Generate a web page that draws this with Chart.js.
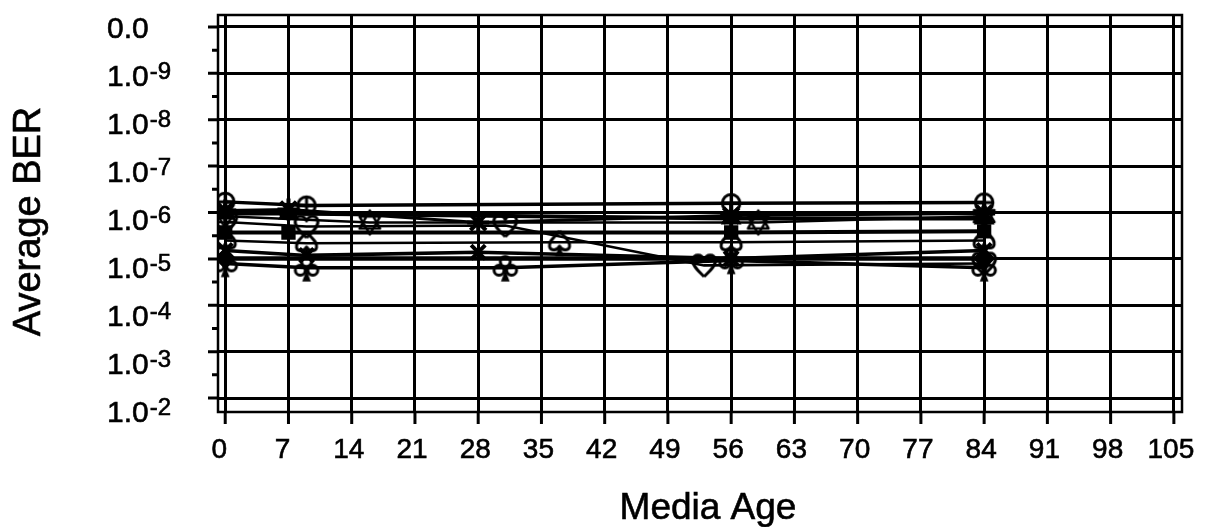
<!DOCTYPE html>
<html>
<head>
<meta charset="utf-8">
<script src="https://cdn.jsdelivr.net/npm/chart.js@4.4.1/dist/chart.umd.min.js"></script>
<style>
  html, body { margin: 0; padding: 0; background: #fff; }
  canvas { display: block; }
</style>
</head>
<body>
<canvas id="ber" width="1206" height="527"></canvas>
<script>
// Axis ticks
const ageTicks = [0, 7, 14, 21, 28, 35, 42, 49, 56, 63, 70, 77, 84, 91, 98, 105];
const berTicks = [1e-10, 1e-9, 1e-8, 1e-7, 1e-6, 1e-5, 1e-4, 1e-3, 1e-2];
const berTickBase = ['0.0', '1.0', '1.0', '1.0', '1.0', '1.0', '1.0', '1.0', '1.0'];
const berTickExp = ['', '-9', '-8', '-7', '-6', '-5', '-4', '-3', '-2'];

// Series: media age (days) and average bit error rate
const circleAge = [0, 9, 56, 84];
const circleBer = [5.9e-7, 7.1e-7, 6.3e-7, 6.1e-7];
const starAge = [0, 7, 28, 56, 84];
const starBer = [9.1e-7, 8.6e-7, 1.64e-6, 1.16e-6, 1.05e-6];
const hexAge = [0, 16, 59, 84];
const hexBer = [1.2e-6, 1.64e-6, 1.64e-6, 1.2e-6];
const triAge = [0, 7, 56, 84];
const triBer = [1.05e-6, 1.05e-6, 1.35e-6, 1.35e-6];
const heartAge = [0, 9, 31, 53, 84];
const heartBer = [1.6e-6, 2.0e-6, 1.9e-6, 1.38e-5, 1.25e-5];
const squareAge = [0, 7, 56, 84];
const squareBer = [2.7e-6, 2.7e-6, 2.7e-6, 2.55e-6];
const spadeAge = [0, 9, 37, 56, 84];
const spadeBer = [4.0e-6, 4.6e-6, 4.4e-6, 4.4e-6, 4.0e-6];
const crossAge = [0, 9, 28, 56, 84];
const crossBer = [6.6e-6, 8.4e-6, 7.2e-6, 9.8e-6, 6.6e-6];
const diamondAge = [0, 84];
const diamondBer = [9.8e-6, 9.8e-6];
const clubAge = [0, 9, 31, 56, 84];
const clubBer = [1.25e-5, 1.55e-5, 1.55e-5, 1.08e-5, 1.55e-5];

const FONT = '"Liberation Sans", Arial, Helvetica, sans-serif';

// Outline symbols drawn onto small canvases and used as point styles
function marker(size, draw) {
  const c = document.createElement('canvas');
  c.width = c.height = size;
  const g = c.getContext('2d');
  g.translate(size / 2, size / 2);
  g.scale(1.25, 1.25);
  g.strokeStyle = '#000';
  g.fillStyle = '#000';
  g.lineWidth = 2.4;
  g.lineJoin = 'round';
  draw(g);
  return c;
}
const circleMark = marker(28, g => {
  g.beginPath(); g.arc(0, 0, 7, 0, Math.PI * 2); g.stroke();
  g.beginPath(); g.moveTo(-7, 0); g.lineTo(7, 0); g.moveTo(0, -7); g.lineTo(0, 7); g.stroke();
});
const heartMark = marker(30, g => {
  g.beginPath();
  g.moveTo(0, 9);
  g.bezierCurveTo(-4, 5, -10, 0, -9, -4.5);
  g.bezierCurveTo(-8, -9.5, -2, -9.5, 0, -4.5);
  g.bezierCurveTo(2, -9.5, 8, -9.5, 9, -4.5);
  g.bezierCurveTo(10, 0, 4, 5, 0, 9);
  g.stroke();
});
const clubMark = marker(32, g => {
  [[0, -5], [-5, 2], [5, 2]].forEach(([cx, cy]) => {
    g.beginPath(); g.arc(cx, cy, 4, 0, Math.PI * 2); g.stroke();
  });
  g.beginPath(); g.moveTo(0, 2); g.lineTo(-3.5, 11); g.lineTo(3.5, 11); g.closePath(); g.fill();
});
const spadeMark = marker(32, g => {
  g.beginPath();
  g.moveTo(0, -9);
  g.bezierCurveTo(-4, -4, -9, -1, -8, 3.5);
  g.bezierCurveTo(-7, 7, -2, 7, 0, 3);
  g.bezierCurveTo(2, 7, 7, 7, 8, 3.5);
  g.bezierCurveTo(9, -1, 4, -4, 0, -9);
  g.stroke();
  g.beginPath(); g.moveTo(0, 3); g.lineTo(-3.5, 11); g.lineTo(3.5, 11); g.closePath(); g.fill();
});
const hexMark = marker(30, g => {
  g.lineWidth = 2;
  for (let k = 0; k < 2; k++) {
    g.beginPath();
    for (let j = 0; j < 3; j++) {
      const a = -Math.PI / 2 + k * Math.PI + j * 2 * Math.PI / 3;
      const px = 9.5 * Math.cos(a), py = 9.5 * Math.sin(a);
      if (j === 0) g.moveTo(px, py); else g.lineTo(px, py);
    }
    g.closePath();
    g.stroke();
  }
});

function series(ages, bers, style, extra) {
  return Object.assign({
    data: ages.map((a, i) => ({ x: a, y: bers[i] })),
    showLine: true,
    borderColor: '#000',
    backgroundColor: '#000',
    borderWidth: 3,
    pointStyle: style,
    pointRadius: 10,
    pointBorderColor: '#000',
    pointBackgroundColor: '#000',
    pointBorderWidth: 3
  }, extra || {});
}

const datasets = [
  series(circleAge, circleBer, circleMark, { borderWidth: 3.5 }),
  series(starAge, starBer, 'star', { pointRadius: 11, pointBorderWidth: 4 }),
  series(hexAge, hexBer, hexMark, { borderWidth: 2.5 }),
  series(triAge, triBer, 'triangle', { borderWidth: 4, pointRadius: 9 }),
  series(heartAge, heartBer, heartMark, { borderWidth: 2.5 }),
  series(squareAge, squareBer, 'rect', { borderWidth: 4, pointRadius: 8 }),
  series(spadeAge, spadeBer, spadeMark, { borderWidth: 2.5 }),
  series(crossAge, crossBer, 'crossRot', { borderWidth: 3.5, pointRadius: 10, pointBorderWidth: 4 }),
  series(diamondAge, diamondBer, 'rectRot', { borderWidth: 4.5, pointRadius: 9 }),
  series(clubAge, clubBer, clubMark, { borderWidth: 3.5 })
];

// Frame, tick marks, tick labels and axis titles
const axisDecor = {
  id: 'axisDecor',
  beforeDraw(chart) {
    const { ctx } = chart;
    ctx.save();
    ctx.fillStyle = '#fff';
    ctx.fillRect(0, 0, chart.width, chart.height);
    ctx.restore();
  },
  afterDraw(chart) {
    const { ctx, chartArea: a, scales: { x, y } } = chart;
    ctx.save();
    ctx.strokeStyle = '#000';
    ctx.lineWidth = 2.5;
    ctx.strokeRect(a.left, a.top, a.right - a.left, a.bottom - a.top);

    ctx.lineWidth = 3;
    ctx.beginPath();
    berTicks.forEach((v, i) => {
      const py = y.getPixelForValue(v);
      ctx.moveTo(a.left - 10, py); ctx.lineTo(a.left, py);
      if (i < berTicks.length - 1) {
        const pm = (py + y.getPixelForValue(berTicks[i + 1])) / 2;
        ctx.moveTo(a.left - 6, pm); ctx.lineTo(a.left, pm);
      }
    });
    ageTicks.forEach(v => {
      const px = x.getPixelForValue(v);
      ctx.moveTo(px, a.bottom); ctx.lineTo(px, a.bottom + 12);
    });
    ctx.stroke();

    ctx.fillStyle = '#000';
    ctx.lineWidth = 0.6;
    ctx.textBaseline = 'alphabetic';
    ctx.textAlign = 'left';
    const text = (s, tx, ty) => { ctx.fillText(s, tx, ty); ctx.strokeText(s, tx, ty); };
    berTicks.forEach((v, i) => {
      const base = y.getPixelForValue(v) + 1.7 * i + 10.7;
      ctx.font = '30px ' + FONT;
      text(berTickBase[i], 107, base);
      if (berTickExp[i]) {
        const w = ctx.measureText(berTickBase[i]).width;
        ctx.font = '24px ' + FONT;
        text(berTickExp[i], 107 + w + 1, base - 7);
      }
    });

    ctx.textAlign = 'center';
    ctx.font = '28px ' + FONT;
    ageTicks.forEach(v => {
      const label = String(v);
      const off = label.length === 1 ? -6 : -3;
      text(label, x.getPixelForValue(v) + off, 458);
    });

    ctx.font = '37px ' + FONT;
    text('Media Age', 708, 519);

    ctx.translate(40, 221.5);
    ctx.rotate(-Math.PI / 2);
    ctx.font = '38px ' + FONT;
    text('Average BER', 0, 0);
    ctx.restore();
  }
};

new Chart(document.getElementById('ber'), {
  type: 'scatter',
  data: { datasets },
  options: {
    responsive: false,
    animation: false,
    layout: { padding: { left: 218, right: 24, top: 14, bottom: 115 } },
    plugins: { legend: { display: false }, tooltip: { enabled: false } },
    scales: {
      x: {
        type: 'linear',
        min: -0.8,
        max: 105.9,
        afterBuildTicks: s => { s.ticks = ageTicks.map(v => ({ value: v })); },
        ticks: { display: false },
        grid: { color: '#000', lineWidth: 3, drawTicks: false },
        border: { display: false }
      },
      y: {
        type: 'logarithmic',
        reverse: true,
        bounds: 'data',
        min: Math.pow(10, -10.258),
        max: Math.pow(10, -1.699),
        afterBuildTicks: s => { s.ticks = berTicks.map(v => ({ value: v })); },
        ticks: { display: false },
        grid: { color: '#000', lineWidth: 3, drawTicks: false },
        border: { display: false }
      }
    }
  },
  plugins: [axisDecor]
});
</script>
</body>
</html>
